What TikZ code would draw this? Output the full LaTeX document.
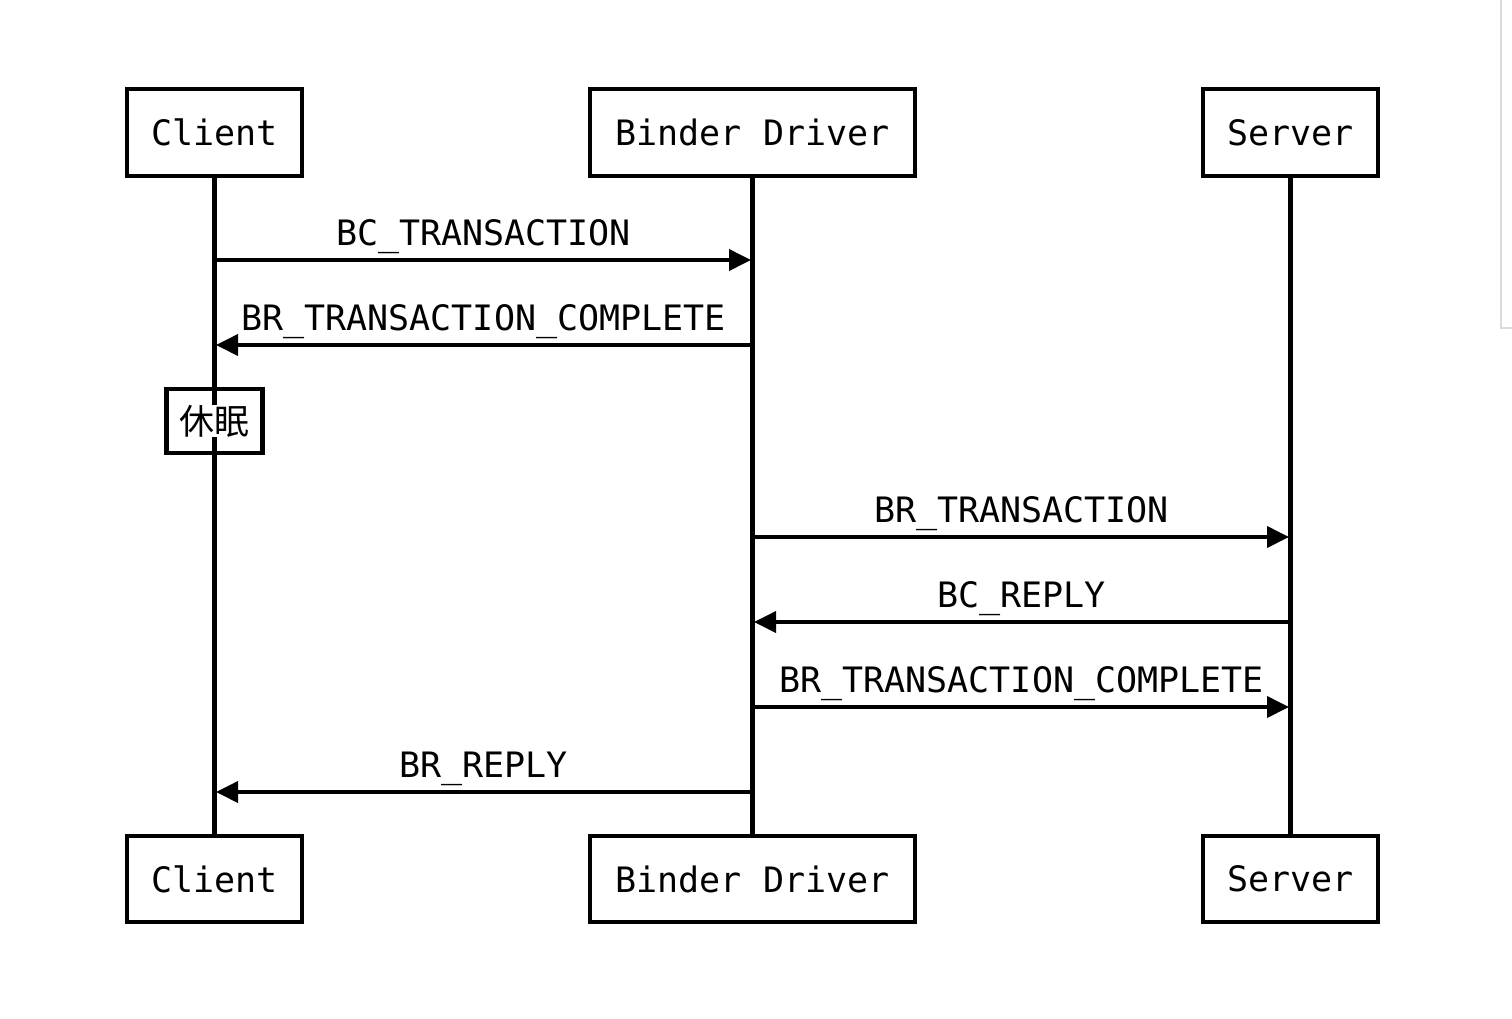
\documentclass[tikz,border=0pt]{standalone}
\usepackage{fontspec}
\setmonofont{DejaVu Sans Mono}
\newfontfamily\cjk{Noto Sans CJK SC}
\usetikzlibrary{arrows.meta}
\begin{document}
\begin{tikzpicture}[x=1pt,y=-1pt,
  actor/.style={draw, line width=4.5pt, minimum height=87pt, inner sep=0pt, font=\ttfamily\fontsize{35}{40}\selectfont},
  life/.style={line width=4.2pt},
  msg/.style={line width=3.8pt, -{Triangle[length=22pt,width=21pt]}, shorten >=1.5pt},
  lbl/.style={anchor=base, inner sep=0pt, yshift=14.5pt, font=\ttfamily\fontsize{35}{40}\selectfont}
]
\useasboundingbox (0,0) rectangle (1512,1018);
\fill[white] (0,0) rectangle (1512,1018);
% faint edge artifact
\draw[line width=2pt, color=black!14] (1501,0) -- (1501,328) -- (1512,328);

% actors
\node[actor, minimum width=175pt] (ct) at (214.5,132.5) {Client};
\node[actor, minimum width=325pt] (bt) at (752.5,132.5) {Binder Driver};
\node[actor, minimum width=175pt] (st) at (1290.5,132.5) {Server};
\node[actor, minimum width=175pt, minimum height=86pt] (cb) at (214.5,879) {Client};
\node[actor, minimum width=325pt, minimum height=86pt] (bb) at (752.5,879) {Binder Driver};
\node[actor, minimum width=175pt, minimum height=86pt] (sb) at (1290.5,879) {Server};

% sleep box (unfilled, lifeline runs through)
\node[draw, line width=4.5pt, minimum width=96pt, minimum height=64pt, inner sep=0pt] (sleepbox) at (214.5,421) {};

% lifelines
\draw[life] (ct.south) -- (cb.north);
\draw[life] (bt.south) -- (bb.north);
\draw[life] (st.south) -- (sb.north);

\node[fill=white, inner sep=0pt, font=\cjk\fontsize{35}{40}\selectfont] (sleep) at (214.5,421) {休眠};

% message anchors
\coordinate (c1) at (214.5,260);  \coordinate (b1) at (752.5,260);
\coordinate (b2) at (752.5,345);  \coordinate (c2) at (214.5,345);
\coordinate (b3) at (752.5,537);  \coordinate (s3) at (1290.5,537);
\coordinate (s4) at (1290.5,622); \coordinate (b4) at (752.5,622);
\coordinate (b5) at (752.5,707);  \coordinate (s5) at (1290.5,707);
\coordinate (b6) at (752.5,792);  \coordinate (c6) at (214.5,792);

\draw[msg] (c1) -- node[lbl] (l1) {BC\_TRANSACTION} (b1);
\draw[msg] (b2) -- node[lbl] (l2) {BR\_TRANSACTION\_COMPLETE} (c2);
\draw[msg] (b3) -- node[lbl] (l3) {BR\_TRANSACTION} (s3);
\draw[msg] (s4) -- node[lbl] (l4) {BC\_REPLY} (b4);
\draw[msg] (b5) -- node[lbl] (l5) {BR\_TRANSACTION\_COMPLETE} (s5);
\draw[msg] (b6) -- node[lbl] (l6) {BR\_REPLY} (c6);
\end{tikzpicture}
\end{document}
